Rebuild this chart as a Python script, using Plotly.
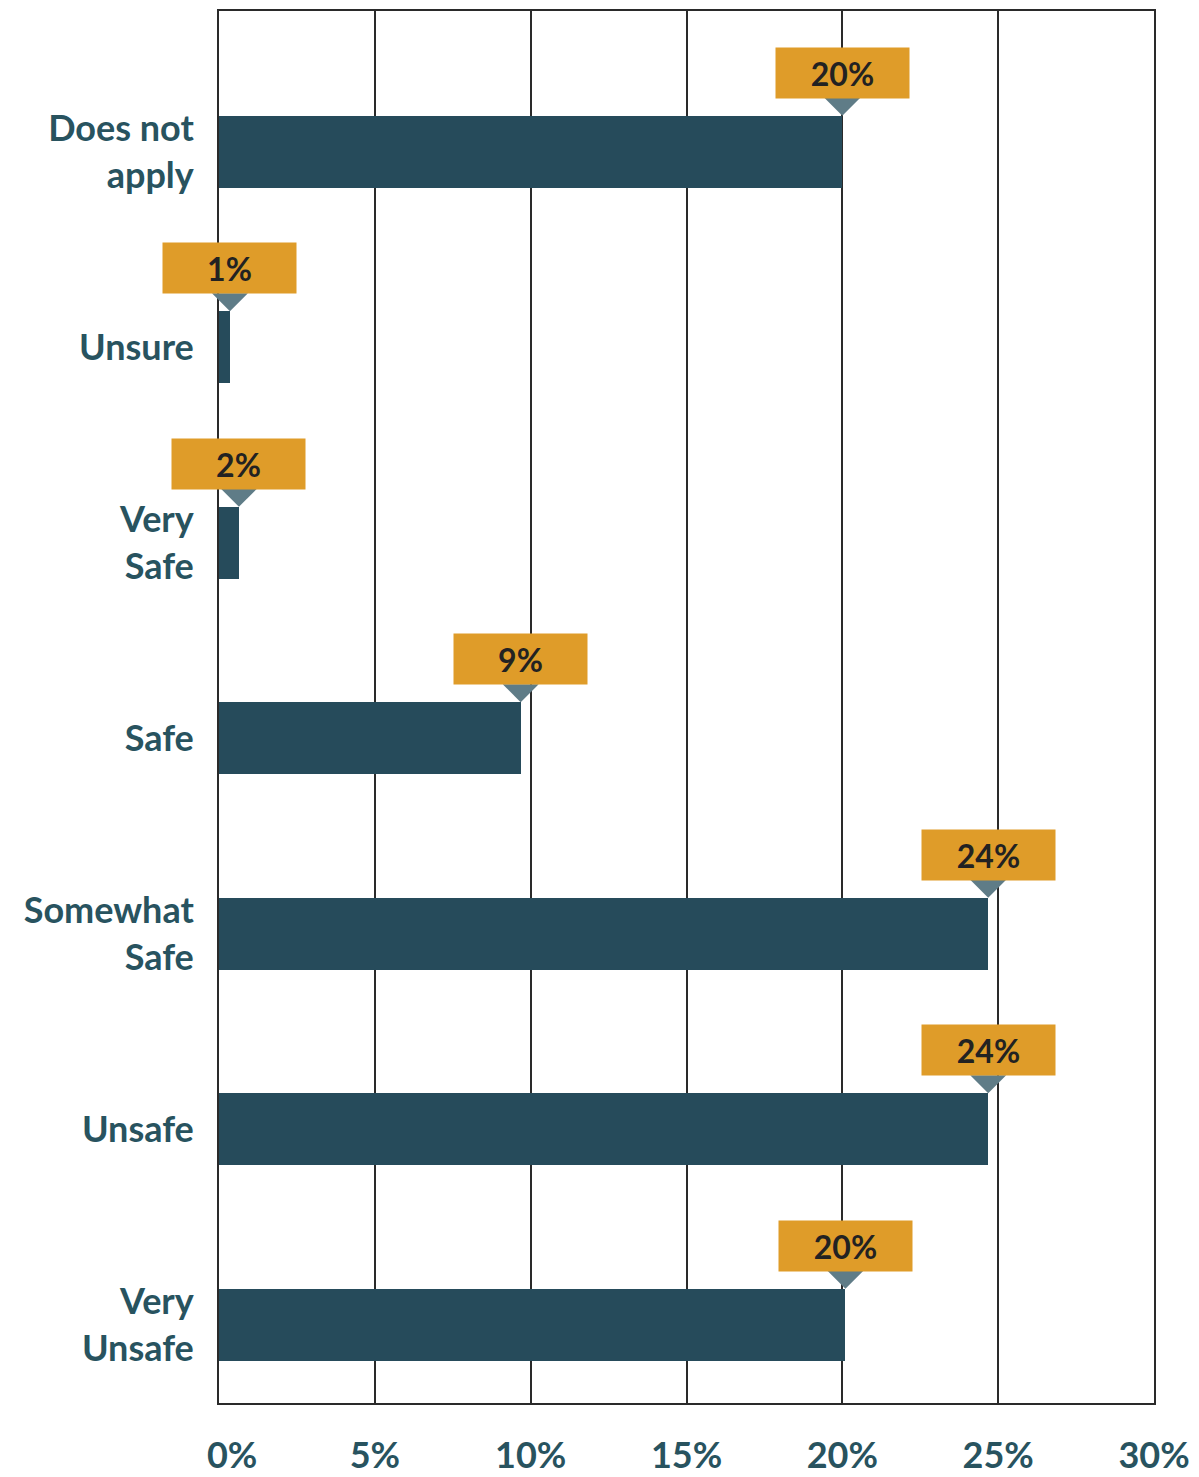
import plotly.graph_objects as go

# Survey responses, top to bottom as shown
categories = ['Does not<br>apply', 'Unsure', 'Very<br>Safe', 'Safe',
              'Somewhat<br>Safe', 'Unsafe', 'Very<br>Unsafe']
values = [20.0, 0.35, 0.64, 9.68, 24.68, 24.68, 20.1]
value_labels = ['20%', '1%', '2%', '9%', '24%', '24%', '20%']

x_ticks = [0, 5, 10, 15, 20, 25, 30]
x_ticktext = ['\u00a0\u00a0\u00a00%', '5%', '10%', '15%', '20%', '25%', '30%']

BAR = '#264B5B'
TEXT = '#28535F'
ORANGE = '#DF9C29'
POINTER = '#5F7C87'
LINE = '#2A2A2A'
XMAX = 30

ypos = list(range(len(categories)))

fig = go.Figure()

fig.add_trace(
    go.Bar(
        x=values,
        y=ypos,
        orientation='h',
        width=0.368,
        marker=dict(color=BAR, line=dict(width=0)),
        hoverinfo='skip',
        showlegend=False
    )
)

# Value callouts: orange box with a small pointer down to the bar end
for yi, v, lab in zip(ypos, values, value_labels):
    fig.add_shape(
        type='path',
        xref='x domain', yref='y',
        xsizemode='pixel', ysizemode='pixel',
        xanchor=v / XMAX, yanchor=yi,
        path='M-18,54 L18,54 L0,36 Z',
        fillcolor=POINTER,
        line=dict(width=0),
        layer='above'
    )
    fig.add_annotation(
        x=v, y=yi, xref='x', yref='y',
        text=lab,
        showarrow=False,
        yshift=79,
        width=133, height=50,
        borderpad=0,
        bgcolor=ORANGE,
        font=dict(family='Lato', size=32, color='#222222', weight='bold'),
        xanchor='center', yanchor='middle'
    )

# page body adds an 8px offset, so the figure is trimmed by that much
fig.update_layout(
    width=1191,
    height=1469,
    margin=dict(l=211, r=45, t=3, b=74, autoexpand=False),
    plot_bgcolor='white',
    paper_bgcolor='white',
    bargap=0,
    showlegend=False
)

fig.update_xaxes(
    range=[0, XMAX],
    tickvals=x_ticks,
    ticktext=x_ticktext,
    showgrid=True,
    gridcolor=LINE,
    gridwidth=2,
    showline=True,
    linecolor=LINE,
    linewidth=2,
    mirror=True,
    zeroline=False,
    ticks='',
    ticklabelstandoff=20,
    tickfont=dict(family='Lato', size=36, color=TEXT, weight='bold')
)

fig.update_yaxes(
    range=[6.40, -0.72],
    tickvals=ypos,
    ticktext=categories,
    showgrid=False,
    showline=True,
    linecolor=LINE,
    linewidth=2,
    mirror=True,
    zeroline=False,
    ticks='',
    ticklabelstandoff=16,
    tickfont=dict(family='Lato', size=36, color=TEXT, weight='bold')
)

fig.write_html('out.html')
